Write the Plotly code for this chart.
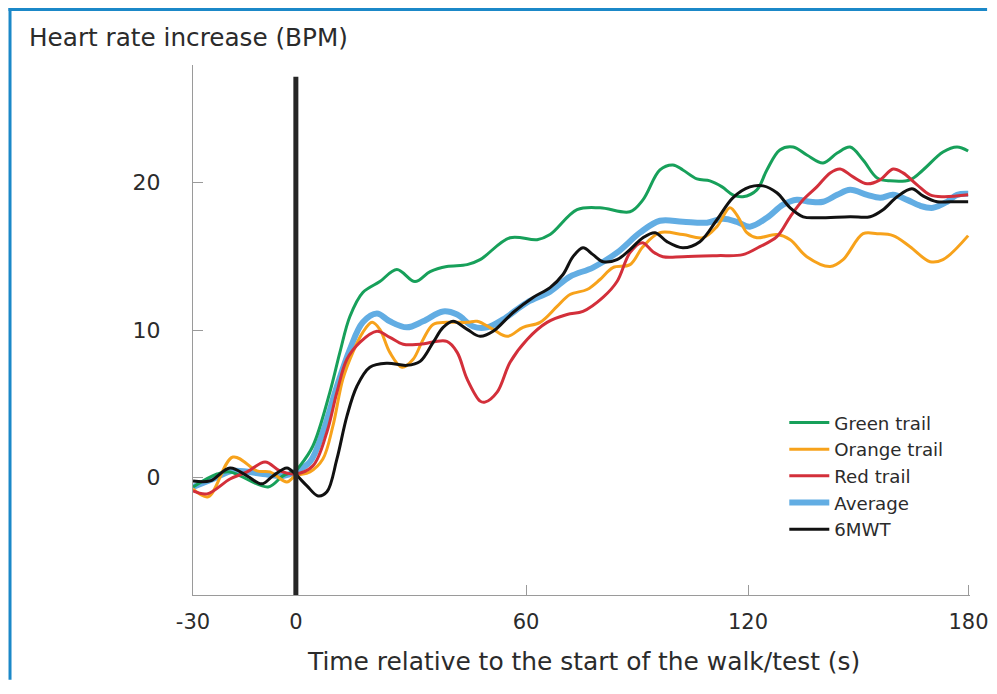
import plotly.graph_objects as go

# ---- data ----
x_ticks = [-30, -2.2, 60, 120, 179.6]
x_tick_labels = ["-30", "0", "60", "120", "180"]
y_ticks = [0, 10, 20]
zero_line_x = -2.2
zero_line_top = 27.2

green_x = [-30, -23.5, -20, -9.7, -5.7, -2.4, -1.1, 2.4, 7.0, 9.7, 12.4, 15.9, 20.5, 25.1, 30.0, 34.1, 38.6, 44.1, 47.6,
           55.7, 63.0, 66.5, 73.8, 80.0, 88.1, 91.6, 96.2, 99.7, 102.4, 106.2, 109.7, 113.0, 115.9, 118.6, 122.4, 125.1,
           128.6, 132.2, 135.9, 140.3, 144.1, 147.6, 151.1, 154.9, 158.4, 163.8, 167.3, 172.7, 176.5, 179.5]
green_y = [-0.66, 0.22, 0.36, -0.66, 0.09, 0.43, 0.77, 2.12, 5.78, 8.48, 10.92, 12.55, 13.29, 14.11, 13.29, 13.97, 14.31,
           14.44, 14.78, 16.27, 16.13, 16.48, 18.17, 18.30, 18.03, 18.84, 20.87, 21.21, 20.87, 20.26, 20.13, 19.72, 19.18,
           19.05, 19.52, 20.87, 22.23, 22.43, 21.89, 21.35, 22.02, 22.43, 21.55, 20.33, 20.13, 20.20, 20.87, 22.09, 22.43,
           22.16]

orange_x = [-30, -25.9, -19.2, -12.7, -9.2, -4.6, -2.4, 1.6, 5.1, 7.8, 10.5, 13.2, 15.9, 18.4, 20.5, 23.2, 26.5, 29.5,
            32.2, 34.9, 38.6, 44.1, 46.8, 51.1, 54.9, 59.2, 63.8, 68.4, 71.9, 76.5, 80.0, 83.5, 88.1, 91.6, 96.2, 102.4,
            107.8, 111.6, 115.1, 117.3, 119.7, 122.4, 127.8, 131.4, 135.9, 142.2, 145.7, 151.1, 154.9, 159.2, 163.8,
            169.2, 172.7, 179.5]
orange_y = [-0.79, -1.33, 1.37, 0.43, 0.36, -0.32, 0.09, 0.36, 1.24, 3.47, 6.66, 8.48, 9.84, 10.52, 10.04, 8.48, 7.47,
            8.01, 9.36, 10.38, 10.52, 10.52, 10.59, 10.04, 9.57, 10.18, 10.52, 11.60, 12.41, 12.75, 13.43, 14.24, 14.44,
            15.66, 16.61, 16.48, 16.27, 17.02, 18.30, 17.69, 16.61, 16.27, 16.48, 16.13, 14.98, 14.31, 14.78, 16.54,
            16.54, 16.41, 15.66, 14.64, 14.78, 16.41]

red_x = [-30, -26.2, -20, -15.4, -10.5, -6.5, -2.4, 2.4, 6.2, 8.9, 11.6, 15.1, 19.7, 23.2, 26.8, 31.4, 38.6, 41.4, 44.1,
         47.6, 48.9, 52.2, 55.7, 60.3, 65.7, 71.1, 75.4, 80.8, 84.6, 88.1, 91.4, 94.3, 97.0, 102.4, 111.6, 118.6, 123.2,
         127.8, 131.4, 134.9, 138.6, 142.2, 144.9, 148.4, 152.2, 155.7, 159.2, 161.9, 165.7, 169.2, 172.7, 179.5]
red_y = [-0.93, -1.13, -0.12, 0.36, 1.04, 0.43, 0.22, 0.77, 3.07, 5.78, 8.01, 9.16, 9.91, 9.50, 9.03, 9.03, 9.23, 8.48,
         6.66, 5.17, 5.10, 5.78, 7.81, 9.36, 10.52, 11.05, 11.26, 12.21, 13.29, 15.25, 15.93, 15.32, 14.98, 14.98, 15.05,
         15.12, 15.66, 16.34, 17.69, 18.84, 19.72, 20.67, 20.94, 20.40, 19.93, 20.20, 20.94, 20.67, 19.86, 19.18, 19.05,
         19.18]

avg_x = [-30, -24.6, -19.2, -11.1, -5.7, -2.4, 1.6, 5.1, 8.9, 12.4, 15.9, 19.7, 23.2, 27.8, 32.2, 37.6, 41.4, 45.7, 49.5,
         53.8, 60.3, 66.5, 71.9, 78.1, 84.6, 90.8, 96.2, 102.4, 108.9, 113.2, 117.0, 120.5, 125.1, 129.5, 133.2, 136.8,
         140.3, 144.1, 147.6, 152.2, 155.7, 159.2, 163.0, 166.5, 170.0, 173.8, 176.5, 179.5]
avg_y = [-0.66, -0.12, 0.43, 0.22, 0.09, 0.36, 1.04, 3.07, 6.18, 8.69, 10.52, 11.12, 10.59, 10.18, 10.59, 11.26, 11.05,
         10.24, 10.18, 10.72, 11.87, 12.61, 13.63, 14.24, 15.25, 16.61, 17.42, 17.35, 17.29, 17.56, 17.35, 17.02, 17.62,
         18.51, 18.84, 18.71, 18.71, 19.18, 19.52, 19.18, 18.98, 19.18, 18.84, 18.44, 18.30, 18.71, 19.18, 19.25]

mwt_x = [-30, -25.4, -20, -15.4, -11.4, -8.4, -4.6, -2.4, 0.8, 3.8, 6.2, 8.9, 11.6, 14.3, 17.8, 22.4, 27.8, 31.4, 34.9,
         37.6, 40.3, 44.1, 47.6, 51.1, 56.5, 61.9, 66.5, 70.0, 72.7, 75.4, 78.1, 80.8, 84.6, 88.1, 91.6, 94.9, 98.1,
         102.4, 107.0, 111.6, 115.9, 120.5, 124.1, 127.8, 131.4, 134.9, 138.6, 147.6, 153.0, 156.5, 160.3, 164.3, 167.3,
         171.1, 174.6, 179.5]
mwt_y = [-0.25, -0.25, 0.63, 0.09, -0.45, 0.09, 0.63, 0.22, -0.59, -1.27, -0.99, 1.24, 4.15, 6.18, 7.47, 7.74, 7.60, 7.87,
         9.16, 10.18, 10.59, 10.04, 9.57, 9.91, 11.19, 12.21, 12.88, 13.77, 14.98, 15.59, 15.12, 14.64, 14.78, 15.46,
         16.27, 16.61, 16.00, 15.59, 16.00, 17.49, 18.98, 19.72, 19.79, 19.32, 18.30, 17.69, 17.62, 17.69, 17.69, 18.17,
         19.05, 19.59, 19.11, 18.71, 18.71, 18.71]

FONT = "DejaVu Sans"
TEXT = "#2b2b2b"

fig = go.Figure()

series = [
    ("Average", avg_x, avg_y, "#62ade3", 6, 4),
    ("Green trail", green_x, green_y, "#17a05a", 3, 1),
    ("Orange trail", orange_x, orange_y, "#f7a21b", 3, 2),
    ("Red trail", red_x, red_y, "#d32f3a", 3, 3),
    ("6MWT", mwt_x, mwt_y, "#111111", 3, 5),
]
for name, xs, ys, col, w, rank in series:
    fig.add_trace(go.Scatter(
        x=xs, y=ys, name=name, mode="lines",
        line=dict(color=col, width=w, shape="spline", smoothing=1.0),
        legendrank=rank,
    ))

fig.add_shape(type="line", xref="x", yref="y", x0=zero_line_x, x1=zero_line_x, y0=-8, y1=zero_line_top,
              line=dict(color="#262626", width=5))

# outer blue frame: only top and left edges are visible
FRAME = dict(color="#1b88c8", width=3)
fig.add_shape(type="line", xref="paper", yref="paper", x0=-0.2375, x1=1.022, y0=1.1047, y1=1.1047,
              line=FRAME, layer="above")
fig.add_shape(type="line", xref="paper", yref="paper", x0=-0.2355, x1=-0.2355, y0=-0.16, y1=1.1075,
              line=FRAME, layer="above")

fig.add_annotation(text="Heart rate increase (BPM)", xref="paper", yref="paper",
                   x=-0.2136, y=1.0528, xanchor="left", yanchor="middle", showarrow=False,
                   font=dict(family=FONT, size=24.7, color=TEXT))
fig.add_annotation(text="Time relative to the start of the walk/test (s)", xref="paper", yref="paper",
                   x=0.502, y=-0.1264, xanchor="center", yanchor="middle", showarrow=False,
                   font=dict(family=FONT, size=24.9, color=TEXT))

fig.update_layout(
    width=981, height=678,
    margin=dict(l=185, r=19, t=57, b=91, autoexpand=False),
    paper_bgcolor="white", plot_bgcolor="white",
    font=dict(family=FONT, size=22, color=TEXT),
    showlegend=True,
    legend=dict(x=0.761, y=0.36, xanchor="left", yanchor="top",
                font=dict(family=FONT, size=18.2, color=TEXT),
                bgcolor="rgba(0,0,0,0)", tracegroupgap=0, itemwidth=40),
    xaxis=dict(range=[-30, 180], tickvals=x_ticks, ticktext=x_tick_labels,
               showgrid=False, zeroline=False, showline=True, linecolor="#9a9a9a", linewidth=1,
               ticks="inside", ticklen=10, tickcolor="#9a9a9a", tickwidth=1,
               tickfont=dict(family=FONT, size=21, color=TEXT), ticklabelstandoff=8),
    yaxis=dict(range=[-8, 28], tickvals=y_ticks,
               showgrid=False, zeroline=False, showline=True, linecolor="#9a9a9a", linewidth=1,
               ticks="inside", ticklen=10, tickcolor="#9a9a9a", tickwidth=1,
               tickfont=dict(family=FONT, size=22, color=TEXT), ticklabelstandoff=27),
)

fig.write_html("out.html")
